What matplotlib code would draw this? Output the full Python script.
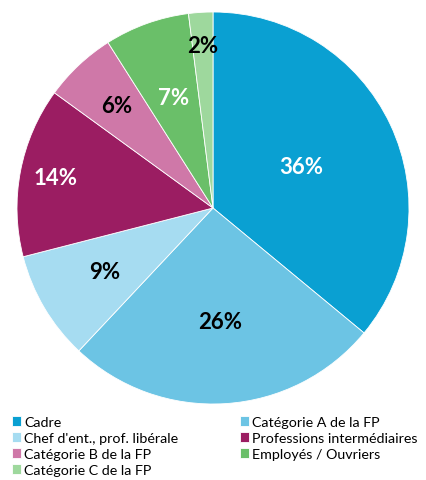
import matplotlib.pyplot as plt
import numpy as np

# Data
categories = ["Cadre", "Catégorie A de la FP", "Chef d'ent., prof. libérale",
              "Professions intermédiaires", "Catégorie B de la FP",
              "Employés / Ouvriers", "Catégorie C de la FP"]
shares = [36, 26, 9, 14, 6, 7, 2]
colors = ["#0aa0d2", "#6cc4e4", "#a6dcf1", "#9b1d62", "#cf78a8", "#6abf69", "#9ed89d"]
label_colors = ["white", "black", "black", "white", "black", "white", "black"]
label_radius = [0.50, 0.58, 0.64, 0.82, 0.72, 0.60, 0.83]

plt.rcParams["font.family"] = ["Lato", "DejaVu Sans"]

fig = plt.figure(figsize=(4.26, 4.81), dpi=100)
ax = fig.add_axes([17 / 426, 76 / 481, 392 / 426, 392 / 481])

wedges, _ = ax.pie(shares, colors=colors, startangle=90, counterclock=False,
                   wedgeprops=dict(linewidth=0.6, edgecolor="white"))

# percent labels
total = sum(shares)
cum = 0
for v, c, r in zip(shares, label_colors, label_radius):
    mid = 90 - 360 * (cum + v / 2) / total
    cum += v
    ang = np.deg2rad(mid)
    ax.text(r * np.cos(ang), r * np.sin(ang), f"{v}%", color=c,
            ha="center", va="center", fontsize=16, fontweight="bold")
ax.set_xlim(-1, 1)
ax.set_ylim(-1, 1)
ax.set_aspect("equal")

# legend, filled row by row
order = [0, 2, 4, 6, 1, 3, 5]
fig.legend([wedges[i] for i in order], [categories[i] for i in order],
           ncol=2, loc="upper left", bbox_to_anchor=(0.028, 0.1335),
           frameon=False, fontsize=10.3, handlelength=0.65, handleheight=0.65,
           handletextpad=0.22, columnspacing=4.3, labelspacing=0.29,
           borderpad=0, borderaxespad=0)

fig.savefig("out.png", dpi=100)
